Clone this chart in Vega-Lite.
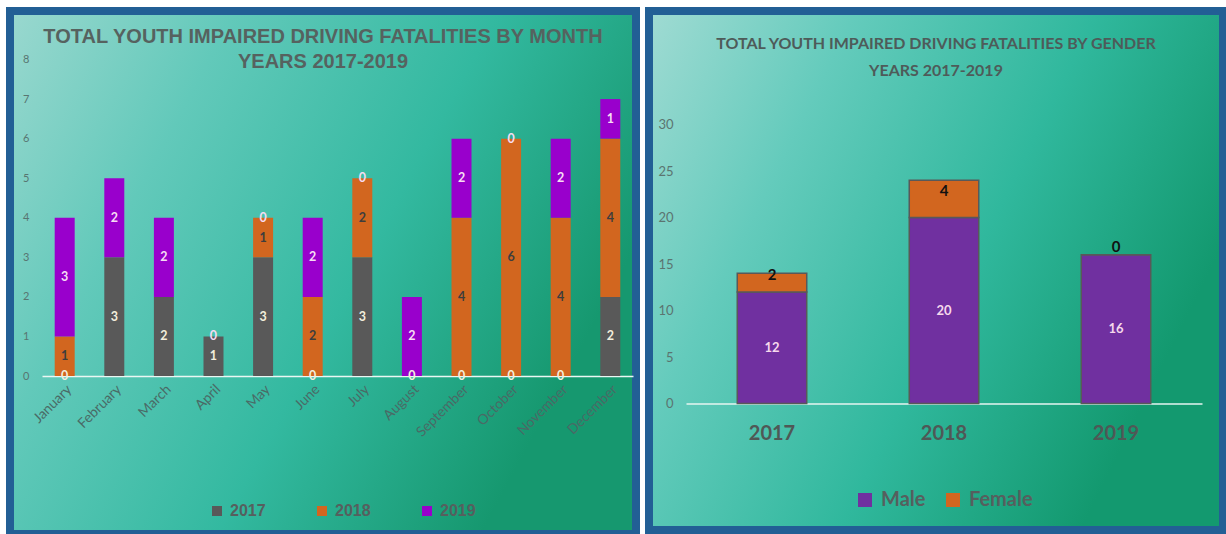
{
  "$schema": "https://vega.github.io/schema/vega-lite/v6.json",
  "background": "#ffffff",
  "padding": {"left": 6, "top": 7, "right": 0, "bottom": 0},
  "spacing": 5,
  "config": {
    "axis": {"minExtent": 0, "grid": false, "ticks": false},
    "legend": {"title": null, "symbolStrokeWidth": 0, "symbolType": "square"}
  },
  "resolve": {
    "scale": {"color": "independent", "x": "independent", "y": "independent"},
    "legend": {"color": "independent"}
  },
  "hconcat": [
    {
      "width": 626,
      "height": 523,
      "view": {
        "stroke": "#225f95",
        "strokeWidth": 8,
        "fill": {
          "gradient": "linear", "x1": 0, "y1": 0, "x2": 1, "y2": 0.45,
          "stops": [
            {"offset": 0, "color": "#9ad8cf"},
            {"offset": 0.3, "color": "#62c9ba"},
            {"offset": 0.65, "color": "#33b9a0"},
            {"offset": 1, "color": "#16986f"}
          ]
        }
      },
      "title": {
        "text": ["TOTAL YOUTH IMPAIRED DRIVING FATALITIES BY MONTH", "YEARS 2017-2019"],
        "font": "Liberation Sans", "fontSize": 20, "fontWeight": "bold",
        "color": "#56625f", "lineHeight": 25, "baseline": "top",
        "anchor": "middle", "frame": "group", "offset": -61
      },
      "data": {
        "values": [
          {"month": "January", "year": "2017", "count": 0},
          {"month": "January", "year": "2018", "count": 1},
          {"month": "January", "year": "2019", "count": 3},
          {"month": "February", "year": "2017", "count": 3},
          {"month": "February", "year": "2019", "count": 2},
          {"month": "March", "year": "2017", "count": 2},
          {"month": "March", "year": "2019", "count": 2},
          {"month": "April", "year": "2017", "count": 1},
          {"month": "April", "year": "2019", "count": 0},
          {"month": "May", "year": "2017", "count": 3},
          {"month": "May", "year": "2018", "count": 1},
          {"month": "May", "year": "2019", "count": 0},
          {"month": "June", "year": "2017", "count": 0},
          {"month": "June", "year": "2018", "count": 2},
          {"month": "June", "year": "2019", "count": 2},
          {"month": "July", "year": "2017", "count": 3},
          {"month": "July", "year": "2018", "count": 2},
          {"month": "July", "year": "2019", "count": 0},
          {"month": "August", "year": "2017", "count": 0},
          {"month": "August", "year": "2019", "count": 2},
          {"month": "September", "year": "2017", "count": 0},
          {"month": "September", "year": "2018", "count": 4},
          {"month": "September", "year": "2019", "count": 2},
          {"month": "October", "year": "2017", "count": 0},
          {"month": "October", "year": "2018", "count": 6},
          {"month": "October", "year": "2019", "count": 0},
          {"month": "November", "year": "2017", "count": 0},
          {"month": "November", "year": "2018", "count": 4},
          {"month": "November", "year": "2019", "count": 2},
          {"month": "December", "year": "2017", "count": 2},
          {"month": "December", "year": "2018", "count": 4},
          {"month": "December", "year": "2019", "count": 1}
        ]
      },
      "encoding": {
        "x": {
          "field": "month", "type": "nominal", "title": null,
          "sort": ["January", "February", "March", "April", "May", "June", "July", "August", "September", "October", "November", "December"],
          "scale": {"range": [32, 623], "paddingInner": 0.597, "paddingOuter": 0.256},
          "axis": {
            "orient": "bottom", "offset": -158, "labelAngle": -45, "labelPadding": 6,
            "domainColor": "#eaf7f3", "domainWidth": 1.5,
            "labelFont": "Lato", "labelFontSize": 14, "labelColor": "#4a6a66"
          }
        }
      },
      "layer": [
        {
          "mark": {"type": "bar"},
          "encoding": {
            "y": {
              "field": "count", "type": "quantitative", "stack": "zero", "title": null,
              "scale": {"domain": [0, 8], "range": [365, 48.5], "nice": false},
              "axis": {
                "orient": "left", "offset": -21, "labelPadding": 2, "domain": false,
                "values": [0, 1, 2, 3, 4, 5, 6, 7, 8],
                "labelFont": "Lato", "labelFontSize": 11, "labelColor": "#587571"
              }
            },
            "color": {
              "field": "year", "type": "nominal",
              "scale": {"domain": ["2017", "2018", "2019"], "range": ["#595959", "#d2661f", "#9900cc"]},
              "legend": {
                "orient": "none", "legendX": 199, "legendY": 492, "direction": "horizontal",
                "symbolSize": 100, "labelFont": "Liberation Sans", "labelFontSize": 16,
                "labelFontWeight": "bold", "labelColor": "#565f5e", "labelOffset": 5,
                "columnPadding": 48
              }
            },
            "order": {"field": "year", "sort": "ascending"}
          }
        },
        {
          "mark": {"type": "text", "font": "Lato", "fontWeight": "bold", "fontSize": 12.5, "baseline": "middle"},
          "encoding": {
            "y": {
              "field": "count", "type": "quantitative", "stack": "zero", "bandPosition": 0.5, "title": null,
              "axis": {
                "orient": "left", "offset": -21, "labelPadding": 2, "domain": false,
                "values": [0, 1, 2, 3, 4, 5, 6, 7, 8],
                "labelFont": "Lato", "labelFontSize": 11, "labelColor": "#587571"
              }
            },
            "detail": {"field": "year"},
            "order": {"field": "year", "sort": "ascending"},
            "text": {"field": "count", "type": "quantitative"},
            "color": {
              "condition": [
                {"test": "datum.year === '2018'", "value": "#3d3d3d"},
                {"test": "datum.year === '2019'", "value": "#f6dcf3"}
              ],
              "value": "#f3eedc"
            }
          }
        }
      ]
    },
    {
      "width": 574,
      "height": 519,
      "view": {
        "stroke": "#225f95",
        "strokeWidth": 8,
        "fill": {
          "gradient": "linear", "x1": 0, "y1": 0, "x2": 1, "y2": 0.45,
          "stops": [
            {"offset": 0, "color": "#a0dbd3"},
            {"offset": 0.3, "color": "#64cbbc"},
            {"offset": 0.65, "color": "#30b89d"},
            {"offset": 1, "color": "#13996f"}
          ]
        }
      },
      "title": {
        "text": ["TOTAL YOUTH IMPAIRED DRIVING FATALITIES BY GENDER", "YEARS 2017-2019"],
        "font": "Lato", "fontSize": 16, "fontWeight": "bold",
        "color": "#4e5b59", "lineHeight": 27, "baseline": "top",
        "anchor": "middle", "frame": "group", "offset": -68
      },
      "data": {
        "values": [
          {"year": "2017", "gender": "Male", "count": 12},
          {"year": "2017", "gender": "Female", "count": 2},
          {"year": "2018", "gender": "Male", "count": 20},
          {"year": "2018", "gender": "Female", "count": 4},
          {"year": "2019", "gender": "Male", "count": 16},
          {"year": "2019", "gender": "Female", "count": 0}
        ]
      },
      "encoding": {
        "x": {
          "field": "year", "type": "nominal", "title": null,
          "scale": {"range": [37, 553], "paddingInner": 0.596, "paddingOuter": 0.298},
          "axis": {
            "orient": "bottom", "offset": -126.5, "labelAngle": 0, "labelPadding": 20,
            "domainColor": "#e6f5f1", "domainWidth": 1.5,
            "labelFont": "Lato", "labelFontSize": 20, "labelFontWeight": "bold", "labelColor": "#4f5856"
          }
        }
      },
      "layer": [
        {
          "mark": {"type": "bar", "stroke": "#595959", "strokeWidth": 1.5},
          "encoding": {
            "y": {
              "field": "count", "type": "quantitative", "stack": "zero", "title": null,
              "scale": {"domain": [0, 30], "range": [392.5, 113.5], "nice": false},
              "axis": {
                "orient": "left", "offset": -26, "labelPadding": 2, "domain": false,
                "values": [0, 5, 10, 15, 20, 25, 30],
                "labelFont": "Lato", "labelFontSize": 13, "labelColor": "#5b7470"
              }
            },
            "color": {
              "field": "gender", "type": "nominal",
              "scale": {"domain": ["Male", "Female"], "range": ["#7030a0", "#d2661f"]},
              "legend": {
                "orient": "none", "legendX": 206, "legendY": 479, "direction": "horizontal",
                "symbolSize": 196, "labelFont": "Lato", "labelFontSize": 20,
                "labelFontWeight": "bold", "labelColor": "#565f5e", "labelOffset": 6,
                "columnPadding": 17
              }
            },
            "order": {"field": "gender", "sort": "descending"}
          }
        },
        {
          "mark": {
            "type": "text", "font": "Lato", "fontWeight": "bold", "baseline": "middle",
            "dy": {"expr": "datum.gender === 'Female' ? -8 : 0"}
          },
          "encoding": {
            "y": {
              "field": "count", "type": "quantitative", "stack": "zero", "bandPosition": 0.5, "title": null,
              "axis": {
                "orient": "left", "offset": -26, "labelPadding": 2, "domain": false,
                "values": [0, 5, 10, 15, 20, 25, 30],
                "labelFont": "Lato", "labelFontSize": 13, "labelColor": "#5b7470"
              }
            },
            "detail": {"field": "gender"},
            "order": {"field": "gender", "sort": "descending"},
            "text": {"field": "count", "type": "quantitative"},
            "size": {"condition": {"test": "datum.gender === 'Female'", "value": 15}, "value": 13},
            "color": {"condition": {"test": "datum.gender === 'Female'", "value": "#111111"}, "value": "#f6d9ec"}
          }
        }
      ]
    }
  ]
}
